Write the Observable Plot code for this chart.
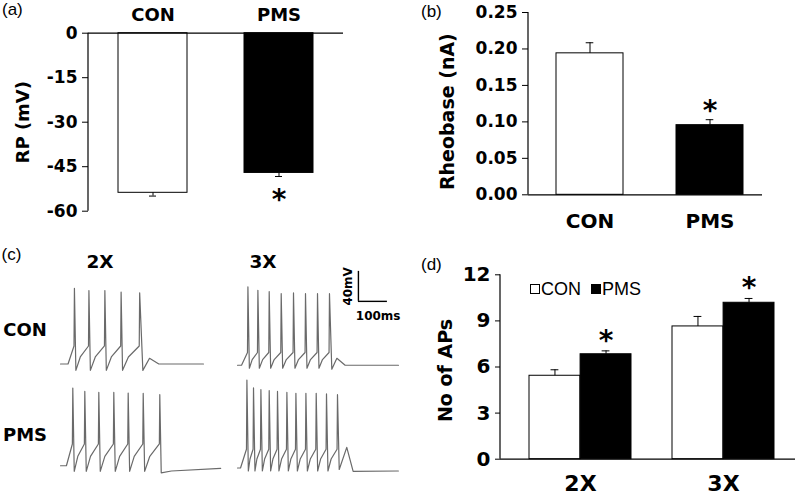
<!DOCTYPE html>
<html><head><meta charset="utf-8">
<script src="https://cdn.jsdelivr.net/npm/d3@7"></script>
<script src="https://cdn.jsdelivr.net/npm/@observablehq/plot@0.6"></script>
<style>
html,body{margin:0;padding:0;background:#fff;}
#fig{position:relative;width:799px;height:496px;overflow:hidden;background:#fff;}
.plab{position:absolute;font:17px "Liberation Sans",Arial,sans-serif;line-height:1;color:#000;}
.blab{position:absolute;font-weight:bold;font-family:"DejaVu Sans",sans-serif;line-height:1;transform:translate(-50%,-50%);white-space:nowrap;color:#000;}
.legend{position:absolute;font:18px "Liberation Sans",Arial,sans-serif;line-height:1;color:#000;white-space:nowrap;}
.sq{display:inline-block;width:8px;height:8px;border:1px solid #000;vertical-align:1px;margin-right:1px;}
</style></head><body><div id="fig"></div>
<script>
// ---------------- DATA ----------------
// (a) resting potential
const rpGroups = ["CON", "PMS"];
const rpMean = [-53.8, -47.1];
const rpSem = [1.1, 1.2];
const rpSig = [false, true];
const rpTicks = [0, -15, -30, -45, -60];

// (b) rheobase
const rheoGroups = ["CON", "PMS"];
const rheoMean = [0.194, 0.0955];
const rheoSem = [0.0145, 0.0075];
const rheoSig = [false, true];
const rheoTicks = [0, 0.05, 0.10, 0.15, 0.20, 0.25];

// (d) number of APs
const apStims = ["2X", "3X"];
const apConMean = [5.43, 8.64];
const apConSem = [0.39, 0.65];
const apPmsMean = [6.83, 10.18];
const apPmsSem = [0.22, 0.28];
const apPmsSig = [true, true];
const apTicks = [0, 3, 6, 9, 12];

// (c) voltage traces: spike times (ms from trace start), spike peaks (mV)
const con2xSpikes = [48, 98, 153, 209, 273];
const con2xPeaks = [46, 43, 43, 41, 40];
const con3xSpikes = [35.9, 70.3, 109.3, 150.7, 193.1, 234.5, 275.9, 317.2];
const con3xPeaks = [47.7, 43.3, 41.4, 38.8, 39.7, 38.8, 38.8, 38.8];
const pms2xSpikes = [42.4, 83.8, 132.1, 183.8, 233.4, 285.2, 342.4];
const pms2xPeaks = [55.6, 51.1, 49.7, 49.7, 48.9, 48.4, 46.7];
const pms3xSpikes = [32.4, 55.2, 80.7, 109.3, 137.9, 170.3, 201.4, 235.9, 271.4, 306.9, 344.8];
const pms3xPeaks = [66.3, 55.7, 53.4, 52.1, 51.1, 49.8, 48.5, 48.5, 48.5, 47.7, 46.7];
// baseline (mV), threshold and trough relative to baseline (mV)
const traceBaseline = [-55, -56.7, -48, -51];   // CON2X, CON3X, PMS2X, PMS3X
const traceThreshold = [24, 17, 29, 25];
const traceTrough = [-8.5, -4, -7.5, -4];
// after-last-spike course: [ms after last spike, mV relative to baseline]
const con2xTail = [[11, -8.5], [34, 7.6], [66, 0], [220, 0]];
const con3xTail = [[8, -5.3], [25.5, 9.3], [54, 0], [238, 0]];
const pms2xTail = [[5, -9.5], [40, -7], [210, -3.5]];
const pms3xTail = [[6, -2], [32, 27.5], [54, -4.5], [210, -4]];
const scaleBarMs = 100, scaleBarMV = 40;

// ---------------- LAYOUT ----------------
const fig = document.getElementById("fig");
function place(el, left, top) {
  el.style.position = "absolute"; el.style.left = left + "px"; el.style.top = top + "px";
  fig.appendChild(el);
}
function html(cls, text, left, top, size) {
  const d = document.createElement("div");
  d.className = cls; d.textContent = text;
  if (size) d.style.fontSize = size + "px";
  d.style.left = left + "px"; d.style.top = top + "px";
  fig.appendChild(d);
  return d;
}
const baseStyle = (fs) => ({fontFamily: "DejaVu Sans, sans-serif", fontWeight: "bold", fontSize: fs + "px",
  background: "transparent", color: "black", overflow: "visible"});
// vertical axis line along the left edge of the frame (render-function mark)
const yAxisLine = (index, scales, values, dims) => {
  const l = document.createElementNS("http://www.w3.org/2000/svg", "line");
  l.setAttribute("x1", dims.marginLeft); l.setAttribute("x2", dims.marginLeft);
  l.setAttribute("y1", dims.marginTop); l.setAttribute("y2", dims.height - dims.marginBottom);
  l.setAttribute("stroke", "black"); l.setAttribute("stroke-width", 1.2);
  return l;
};
const STAR_SIZE = 28, STAR_SHIFT = 7.5;

// ---------------- (a) ----------------
const aData = rpGroups.map((g, i) => ({group: g, mean: rpMean[i], sem: rpSem[i], sig: rpSig[i]}));
const plotA = Plot.plot({
  width: 400, height: 225,
  marginLeft: 88, marginTop: 32.7, marginRight: 57, marginBottom: 14.3,
  style: baseStyle(17),
  x: {domain: rpGroups, paddingInner: 0.45, paddingOuter: 0.23},
  y: {domain: [-60, 0]},
  color: {domain: rpGroups, range: ["white", "black"]},
  marks: [
    Plot.barY(aData, {x: "group", y: "mean", fill: "group", stroke: "black", strokeWidth: 1}),
    Plot.ruleX(aData, {x: "group", y1: "mean", y2: d => d.mean - d.sem, stroke: "black"}),
    Plot.tickY(aData, {x: "group", y: d => d.mean - d.sem, insetLeft: 31, insetRight: 31, stroke: "black"}),
    Plot.text(aData.filter(d => d.sig), {x: "group", y: d => d.mean - d.sem, text: () => "*", dy: 16 + STAR_SHIFT, fontSize: STAR_SIZE}),
    Plot.ruleY([0], {stroke: "black", strokeWidth: 1.2}),
    yAxisLine,
    Plot.axisY({ticks: rpTicks, tickFormat: d => String(d), tickSize: 6, tickPadding: 5, label: null, fontSize: 17}),
    Plot.axisX({anchor: "top", tickSize: 0, tickPadding: 12, label: null, fontSize: 18}),
    Plot.text(["RP (mV)"], {frameAnchor: "left", textAnchor: "middle", rotate: -90, dx: -65, fontSize: 18})
  ]
});
place(plotA, 0, 0);

// ---------------- (b) ----------------
const bData = rheoGroups.map((g, i) => ({group: g, mean: rheoMean[i], sem: rheoSem[i], sig: rheoSig[i]}));
const plotB = Plot.plot({
  width: 399, height: 230,
  marginLeft: 128, marginTop: 12, marginRight: 37, marginBottom: 35.7,
  style: baseStyle(17),
  x: {domain: rheoGroups, paddingInner: 0.44, paddingOuter: 0.19, align: 0.59},
  y: {domain: [0, 0.25]},
  color: {domain: rheoGroups, range: ["white", "black"]},
  marks: [
    Plot.barY(bData, {x: "group", y: "mean", fill: "group", stroke: "black", strokeWidth: 1}),
    Plot.ruleX(bData, {x: "group", y1: "mean", y2: d => d.mean + d.sem, stroke: "black"}),
    Plot.tickY(bData, {x: "group", y: d => d.mean + d.sem, insetLeft: 29.7, insetRight: 29.7, stroke: "black"}),
    Plot.text(bData.filter(d => d.sig), {x: "group", y: d => d.mean + d.sem, text: () => "*", dy: -16 + STAR_SHIFT, fontSize: STAR_SIZE}),
    Plot.ruleY([0], {stroke: "black", strokeWidth: 1.2}),
    yAxisLine,
    Plot.axisY({ticks: rheoTicks, tickFormat: d3.format(".2f"), tickSize: 6, tickPadding: 5, label: null, fontSize: 17}),
    Plot.axisX({anchor: "bottom", tickSize: 0, tickPadding: 19, label: null, fontSize: 20}),
    Plot.text(["Rheobase (nA)"], {frameAnchor: "left", textAnchor: "middle", rotate: -90, dx: -81, dy: 8, fontSize: 19})
  ]
});
place(plotB, 400, 0);

// ---------------- (d) ----------------
const dW = 295, dPI = 0.29, dPO = 0.17;
const dStep = dW / (apStims.length - dPI + 2 * dPO);
const dHalf = dStep * (1 - dPI) / 2;
const dCon = apStims.map((s, i) => ({stim: s, mean: apConMean[i], sem: apConSem[i]}));
const dPms = apStims.map((s, i) => ({stim: s, mean: apPmsMean[i], sem: apPmsSem[i], sig: apPmsSig[i]}));
const plotD = Plot.plot({
  width: 399, height: 266,
  marginLeft: 100, marginTop: 44.3, marginRight: 4, marginBottom: 37.3,
  style: baseStyle(20),
  x: {domain: apStims, paddingInner: dPI, paddingOuter: dPO, align: 0.57},
  y: {domain: [0, 12]},
  marks: [
    Plot.barY(dCon, {x: "stim", y: "mean", fill: "white", stroke: "black", insetRight: dHalf}),
    Plot.barY(dPms, {x: "stim", y: "mean", fill: "black", stroke: "black", insetLeft: dHalf}),
    Plot.ruleX(dCon, {x: "stim", y1: "mean", y2: d => d.mean + d.sem, dx: -dHalf / 2, stroke: "black"}),
    Plot.ruleX(dPms, {x: "stim", y1: "mean", y2: d => d.mean + d.sem, dx: dHalf / 2, stroke: "black"}),
    Plot.tickY(dCon, {x: "stim", y: d => d.mean + d.sem, insetLeft: dHalf / 2 - 4, insetRight: 1.5 * dHalf - 4, stroke: "black"}),
    Plot.tickY(dPms, {x: "stim", y: d => d.mean + d.sem, insetLeft: 1.5 * dHalf - 4, insetRight: dHalf / 2 - 4, stroke: "black"}),
    Plot.text(dPms.filter(d => d.sig), {x: "stim", y: d => d.mean + d.sem, dx: dHalf / 2, text: () => "*", dy: -17.5 + STAR_SHIFT, fontSize: STAR_SIZE}),
    Plot.ruleY([0], {stroke: "black", strokeWidth: 1.2}),
    yAxisLine,
    Plot.axisY({ticks: apTicks, tickSize: 5, tickPadding: 5, label: null, fontSize: 20}),
    Plot.axisX({anchor: "bottom", tickSize: 0, tickPadding: 16, label: null, fontSize: 22}),
    Plot.text(["No of APs"], {frameAnchor: "left", textAnchor: "middle", rotate: -90, dx: -55, dy: 3.5, fontSize: 19})
  ]
});
place(plotD, 400, 230);

// legend (d)
const leg = document.createElement("div");
leg.className = "legend";
leg.innerHTML = '<span class="sq" style="background:#fff"></span>CON<span style="display:inline-block;width:10px"></span><span class="sq" style="background:#000"></span>PMS';
leg.style.left = "530px"; leg.style.top = "280px";
fig.appendChild(leg);

// ---------------- (c) traces ----------------
function buildTrace(spikes, peaks, base, thr, trough, tail) {
  const pts = [{t: 0, v: base}, {t: spikes[0] - 22, v: base}];
  spikes.forEach((t, i) => {
    if (i > 0) {
      const t0 = spikes[i - 1] + 5, t1 = t - 1.5;
      pts.push({t: t0 + 0.35 * (t1 - t0), v: base + trough + 0.55 * (thr - trough)});
    }
    pts.push({t: t - 1.5, v: base + thr});
    pts.push({t: t, v: peaks[i]});
    if (i < spikes.length - 1) pts.push({t: t + 5, v: base + trough});
  });
  const last = spikes[spikes.length - 1];
  tail.forEach(([dt, dv]) => pts.push({t: last + dt, v: base + dv}));
  return pts;
}
const traces = [
  {row: "CON", col: "2X", pts: buildTrace(con2xSpikes, con2xPeaks, traceBaseline[0], traceThreshold[0], traceTrough[0], con2xTail)},
  {row: "CON", col: "3X", pts: buildTrace(con3xSpikes, con3xPeaks, traceBaseline[1], traceThreshold[1], traceTrough[1], con3xTail)},
  {row: "PMS", col: "2X", pts: buildTrace(pms2xSpikes, pms2xPeaks, traceBaseline[2], traceThreshold[2], traceTrough[2], pms2xTail)},
  {row: "PMS", col: "3X", pts: buildTrace(pms3xSpikes, pms3xPeaks, traceBaseline[3], traceThreshold[3], traceTrough[3], pms3xTail)}
];
const PX_PER_MS = 0.29, PX_PER_MV = 0.75;
const T_DOMAIN = [0, 560], V_DOMAIN = [-75, 75];
const colLeft = {"2X": 60, "3X": 237.3};
const rowAnchor = {CON: {y: 363, v: -55}, PMS: {y: 465, v: -48}};
const sbAnchor = {t: 417, v: 28.5};
traces.forEach(tr => {
  const marks = [Plot.line(tr.pts, {x: "t", y: "v", stroke: "#6a6a6a", strokeWidth: 1.2})];
  if (tr.row === "CON" && tr.col === "3X") {
    const sb = [{t0: sbAnchor.t, v0: sbAnchor.v, ms: scaleBarMs, mV: scaleBarMV}];
    marks.push(
      Plot.ruleX(sb, {x: "t0", y1: "v0", y2: d => d.v0 + d.mV, stroke: "black", strokeWidth: 1.4}),
      Plot.ruleY(sb, {y: "v0", x1: "t0", x2: d => d.t0 + d.ms, stroke: "black", strokeWidth: 1.4}),
      Plot.text(sb, {x: d => d.t0 - 35, y: d => d.v0 + d.mV / 2, text: d => `${d.mV}mV`, rotate: -90, fontSize: 12}),
      Plot.text(sb, {x: d => d.t0 + d.ms * 0.68, y: d => d.v0 - 19.5, text: d => `${d.ms}ms`, fontSize: 12})
    );
  }
  const p = Plot.plot({
    width: (T_DOMAIN[1] - T_DOMAIN[0]) * PX_PER_MS,
    height: (V_DOMAIN[1] - V_DOMAIN[0]) * PX_PER_MV,
    margin: 0,
    style: baseStyle(12),
    x: {domain: T_DOMAIN, axis: null},
    y: {domain: V_DOMAIN, axis: null},
    marks
  });
  const a = rowAnchor[tr.row];
  place(p, colLeft[tr.col], a.y - (V_DOMAIN[1] - a.v) * PX_PER_MV);
});

// labels
html("plab", "(a)", 2, 1);
html("plab", "(b)", 421, 3);
html("plab", "(c)", 1.5, 246);
html("plab", "(d)", 421, 256);
html("blab", "2X", 100, 262, 18.5);
html("blab", "3X", 263, 262, 18.5);
html("blab", "CON", 25, 330, 18);
html("blab", "PMS", 25, 435, 18);
</script></body></html>
